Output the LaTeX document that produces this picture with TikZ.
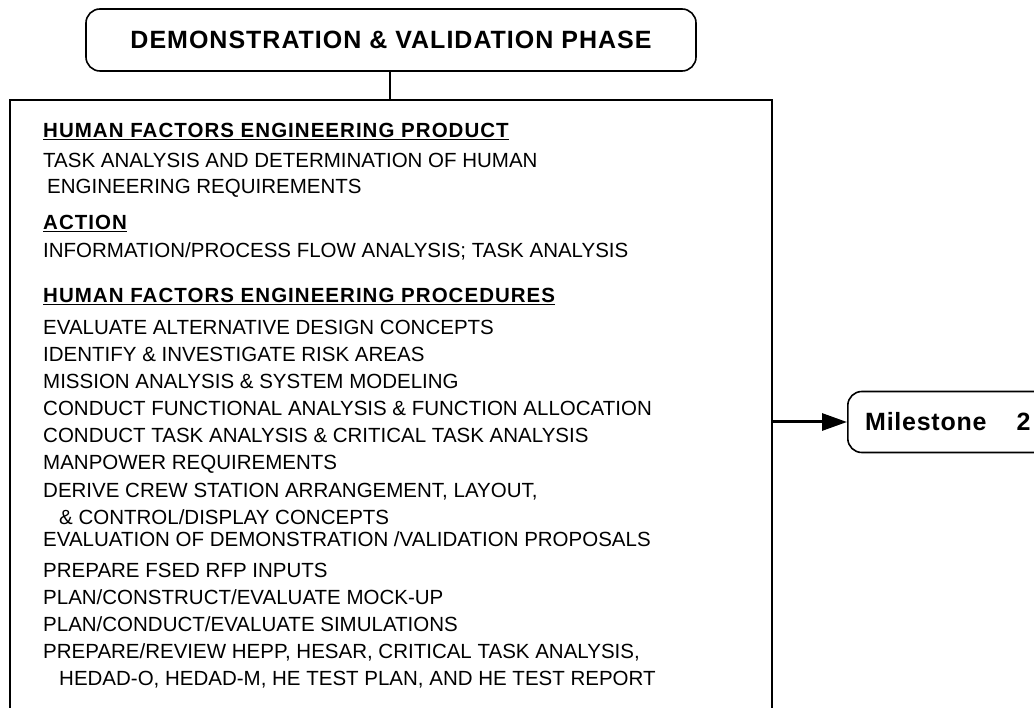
\documentclass[tikz,border=0pt]{standalone}
\usepackage{fontspec}
\setmainfont{Liberation Sans}
\usetikzlibrary{arrows.meta,positioning,calc}
\tikzset{
	phase/.style={draw,line width=1.6pt,rounded corners=14pt,minimum width=610pt,minimum height=62pt,font=\bfseries\fontsize{25}{25}\selectfont\addfontfeature{LetterSpace=4}},
	stone/.style={draw,line width=1.6pt,rounded corners=14pt,minimum width=200pt,minimum height=61pt,anchor=west,font=\bfseries\fontsize{25}{25}\selectfont\addfontfeature{LetterSpace=3}},
	txt/.style={anchor=base west,inner sep=0pt,font=\fontsize{20.5}{20.5}\selectfont},
	head/.style={txt,font=\bfseries\fontsize{20.5}{20.5}\selectfont\addfontfeature{LetterSpace=5}},
	frame/.style={color=black,line width=1.6pt},
	diredge/.style={-{Triangle[width=17pt,length=25pt]},color=black,line width=3pt}
}
\newcommand{\hd}[1]{\underline{#1}}
\begin{document}
\begin{tikzpicture}[x=1pt,y=-1pt]
		\useasboundingbox (0,0) rectangle (1034,708);
		% Variables for distances
		\def\x{43} % left margin of the text lines
		\def\y{27} % line pitch
		
		\node[phase] (Phase) at (391,40) {DEMONSTRATION \& VALIDATION PHASE};
		\node[stone] (Mile) at (847,422) {Milestone\hspace{30pt}2\hspace{30pt}};
		
		% open box below the phase
		\draw[frame] (10,708) -- (10,100) -- (772,100) -- (772,708);
		\coordinate (BoxTop) at (390,100);
		\coordinate (BoxRight) at (772,422);
		\draw[frame] (BoxTop |- Phase.south) -- (BoxTop);
		\draw[diredge] (BoxRight) -- (Mile.west);
		
		\node[head] (H1) at (\x,138) {\hd{HUMAN FACTORS ENGINEERING PRODUCT}};
		\node[txt] (T1) at (\x,168) {TASK ANALYSIS AND DETERMINATION OF HUMAN};
		\node[txt] (T2) at ($(T1.base west)+(4,26)$) {ENGINEERING REQUIREMENTS};
		\node[head] (H2) at (\x,230) {\hd{ACTION}};
		\node[txt] (A1) at (\x,258) {INFORMATION/PROCESS FLOW ANALYSIS; TASK ANALYSIS};
		\node[head] (H3) at (\x,303) {\hd{HUMAN FACTORS ENGINEERING PROCEDURES}};
		\node[txt] (P1) at (\x,335) {EVALUATE ALTERNATIVE DESIGN CONCEPTS};
		\node[txt] (P2) at ($(P1.base west)+(0,\y)$) {IDENTIFY \& INVESTIGATE RISK AREAS};
		\node[txt] (P3) at ($(P2.base west)+(0,\y)$) {MISSION ANALYSIS \& SYSTEM MODELING};
		\node[txt] (P4) at ($(P3.base west)+(0,\y)$) {CONDUCT FUNCTIONAL ANALYSIS \& FUNCTION ALLOCATION};
		\node[txt] (P5) at ($(P4.base west)+(0,\y)$) {CONDUCT TASK ANALYSIS \& CRITICAL TASK ANALYSIS};
		\node[txt] (P6) at ($(P5.base west)+(0,\y)$) {MANPOWER REQUIREMENTS};
		\node[txt] (P7) at ($(P6.base west)+(0,\y)$) {DERIVE CREW STATION ARRANGEMENT, LAYOUT,};
		\node[txt] (P8) at ($(P7.base west)+(16,\y)$) {\& CONTROL/DISPLAY CONCEPTS};
		\node[txt] (P9) at ($(P7.base west)+(0,49)$) {EVALUATION OF DEMONSTRATION /VALIDATION PROPOSALS};
		\node[txt] (P10) at ($(P9.base west)+(0,31)$) {PREPARE FSED RFP INPUTS};
		\node[txt] (P11) at ($(P10.base west)+(0,\y)$) {PLAN/CONSTRUCT/EVALUATE MOCK-UP};
		\node[txt] (P12) at ($(P11.base west)+(0,\y)$) {PLAN/CONDUCT/EVALUATE SIMULATIONS};
		\node[txt] (P13) at ($(P12.base west)+(0,\y)$) {PREPARE/REVIEW HEPP, HESAR, CRITICAL TASK ANALYSIS,};
		\node[txt] (P14) at ($(P13.base west)+(16,\y)$) {HEDAD-O, HEDAD-M, HE TEST PLAN, AND HE TEST REPORT};
		
	\end{tikzpicture}
\end{document}
